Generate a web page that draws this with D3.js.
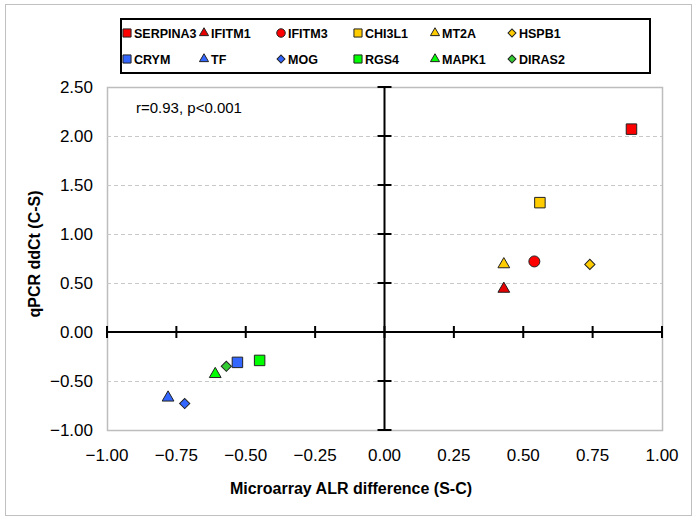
<!DOCTYPE html>
<html>
<head>
<meta charset="utf-8">
<script src="https://cdn.jsdelivr.net/npm/d3@7"></script>
<style>
  body { margin: 0; background: #fff; }
  text { font-family: "Liberation Sans", Arial, sans-serif; }
</style>
</head>
<body>
<div id="chart"></div>
<script>
// data
var genes   = ["SERPINA3", "IFITM1", "IFITM3", "CHI3L1", "MT2A", "HSPB1",
               "CRYM", "TF", "MOG", "RGS4", "MAPK1", "DIRAS2"];
var alrDiff = [0.89, 0.43, 0.54, 0.56, 0.43, 0.74,
               -0.53, -0.78, -0.72, -0.45, -0.61, -0.57];
var ddCt    = [2.07, 0.44, 0.72, 1.32, 0.69, 0.69,
               -0.31, -0.67, -0.73, -0.29, -0.43, -0.35];
var shapes  = ["square", "triangle", "circle", "square", "triangle", "diamond",
               "square", "triangle", "diamond", "square", "triangle", "diamond"];
var colors  = ["#ff0000", "#e60000", "#ff0000", "#ffcc00", "#ffcc00", "#ffcc00",
               "#3366ff", "#3366ff", "#3366ff", "#00ff00", "#00ff00", "#33cc33"];
var xTicks = [-1, -0.75, -0.5, -0.25, 0, 0.25, 0.5, 0.75, 1];
var yTicks = [-1, -0.5, 0, 0.5, 1, 1.5, 2, 2.5];
var statText = "r=0.93, p<0.001";

var width = 695, height = 519;
var plot = {left: 107, right: 662, top: 87, bottom: 430};

var svg = d3.select("#chart").append("svg")
    .attr("width", width)
    .attr("height", height);

// outer chart border
svg.append("rect")
    .attr("x", 5.5).attr("y", 4.5)
    .attr("width", 686).attr("height", 511)
    .attr("fill", "#fff")
    .attr("stroke", "#c0c0c0");

var x = d3.scaleLinear().domain([-1, 1]).range([plot.left, plot.right]);
var y = d3.scaleLinear().domain([-1, 2.5]).range([plot.bottom, plot.top]);

// plot area border
svg.append("rect")
    .attr("x", plot.left + 0.5).attr("y", plot.top + 0.5)
    .attr("width", plot.right - plot.left).attr("height", plot.bottom - plot.top)
    .attr("fill", "none")
    .attr("stroke", "#bdbdbd")
    .attr("stroke-width", 1.5);

// gridlines
svg.append("g").selectAll("line")
    .data(yTicks.filter(function(d) { return d != 0 && d != 2.5 && d != -1; }))
    .enter().append("line")
    .attr("x1", plot.left).attr("x2", plot.right)
    .attr("y1", function(d) { return Math.round(y(d)) + 0.5; })
    .attr("y2", function(d) { return Math.round(y(d)) + 0.5; })
    .attr("stroke", "#c8c8c8")
    .attr("stroke-dasharray", "4,3");

// tick labels
svg.append("g").selectAll("text")
    .data(yTicks).enter().append("text")
    .attr("x", 93)
    .attr("y", function(d) { return y(d); })
    .attr("dy", "0.35em")
    .attr("text-anchor", "end")
    .style("font-size", "17px")
    .text(function(d) { return d3.format(".2f")(d); });

svg.append("g").selectAll("text")
    .data(xTicks).enter().append("text")
    .attr("x", function(d) { return x(d); })
    .attr("y", 461)
    .attr("text-anchor", "middle")
    .style("font-size", "17px")
    .text(function(d) { return d3.format(".2f")(d); });

// crossing axes through zero
var x0 = x(0), y0 = y(0);
svg.append("line")
    .attr("x1", plot.left).attr("x2", plot.right)
    .attr("y1", y0).attr("y2", y0)
    .attr("stroke", "#000").attr("stroke-width", 2);
svg.append("line")
    .attr("x1", x0).attr("x2", x0)
    .attr("y1", plot.top).attr("y2", plot.bottom)
    .attr("stroke", "#000").attr("stroke-width", 2);

svg.append("g").selectAll("line")
    .data(xTicks).enter().append("line")
    .attr("x1", function(d) { return x(d); })
    .attr("x2", function(d) { return x(d); })
    .attr("y1", y0 - 6).attr("y2", y0 + 6)
    .attr("stroke", "#000").attr("stroke-width", 2);

svg.append("g").selectAll("line")
    .data(yTicks).enter().append("line")
    .attr("x1", x0 - 7).attr("x2", x0 + 7)
    .attr("y1", function(d) { return y(d); })
    .attr("y2", function(d) { return y(d); })
    .attr("stroke", "#000").attr("stroke-width", 2);

// axis titles
svg.append("text")
    .attr("x", 351).attr("y", 494)
    .attr("text-anchor", "middle")
    .style("font-size", "16px").style("font-weight", "bold")
    .text("Microarray ALR difference (S-C)");

svg.append("text")
    .attr("transform", "translate(40,254) rotate(-90)")
    .attr("text-anchor", "middle")
    .style("font-size", "16px").style("font-weight", "bold")
    .text("qPCR ddCt (C-S)");

svg.append("text")
    .attr("x", 136).attr("y", 113)
    .style("font-size", "15px")
    .text(statText);

// marker shapes (diamond = square turned 45deg, like Excel)
function symbolFor(s) {
  if (s == "triangle") return d3.symbolTriangle;
  if (s == "circle") return d3.symbolCircle;
  return d3.symbolSquare;
}
function sizeFor(s, k) {
  if (s == "square") return 110 * k;
  if (s == "triangle") return 60 * k;
  if (s == "circle") return 95 * k;
  return 52 * k;
}
function markerPath(s, k) {
  return d3.symbol().type(symbolFor(s)).size(sizeFor(s, k))();
}
function rot(s) { return s == "diamond" ? " rotate(45)" : ""; }

svg.append("g").selectAll("path")
    .data(genes).enter().append("path")
    .attr("transform", function(d, i) {
      return "translate(" + x(alrDiff[i]) + "," + y(ddCt[i]) + ")" + rot(shapes[i]);
    })
    .attr("d", function(d, i) { return markerPath(shapes[i], 1); })
    .attr("fill", function(d, i) { return colors[i]; })
    .attr("stroke", "#222")
    .attr("stroke-width", 1);

// legend
var legend = svg.append("g");
legend.append("rect")
    .attr("x", 121).attr("y", 19)
    .attr("width", 529).attr("height", 54)
    .attr("fill", "#fff")
    .attr("stroke", "#000").attr("stroke-width", 2);

var item = legend.selectAll("g.item")
    .data(genes).enter().append("g")
    .attr("class", "item")
    .attr("transform", function(d, i) {
      return "translate(" + (127 + (i % 6) * 77) + "," + (i < 6 ? 33 : 59) + ")";
    });
item.append("path")
    .attr("transform", function(d, i) { return rot(shapes[i]); })
    .attr("d", function(d, i) { return markerPath(shapes[i], 0.6); })
    .attr("fill", function(d, i) { return colors[i]; })
    .attr("stroke", "#222");
item.append("text")
    .attr("x", 7)
    .attr("dy", "0.36em")
    .style("font-size", "12.5px").style("font-weight", "bold")
    .text(function(d) { return d; });
</script>
</body>
</html>
